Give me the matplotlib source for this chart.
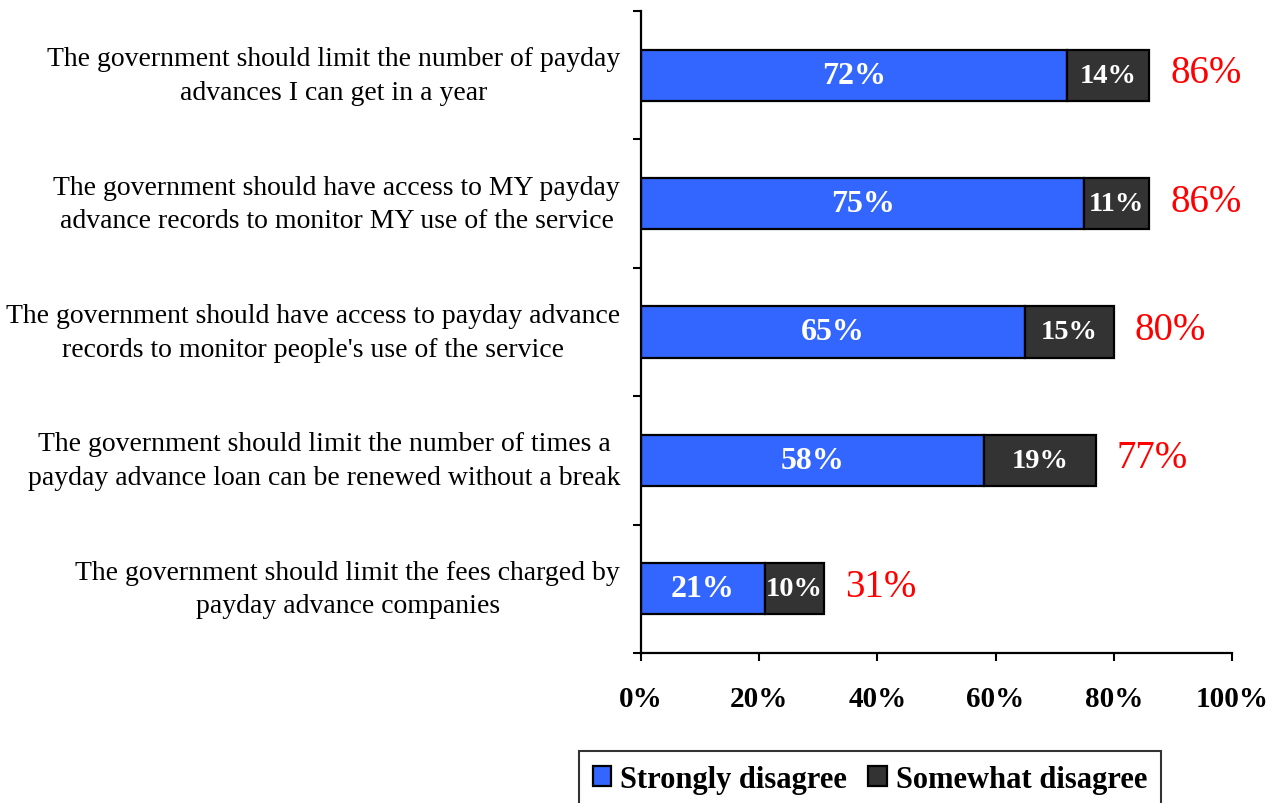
import numpy as np
import matplotlib.pyplot as plt
import matplotlib.transforms as mtransforms
from matplotlib.ticker import FixedLocator, PercentFormatter

statements = [
    "The government should limit the number of payday\nadvances I can get in a year",
    "The government should have access to MY payday\nadvance records to monitor MY use of the service",
    "The government should have access to payday advance\nrecords to monitor people's use of the service",
    "The government should limit the number of times a\npayday advance loan can be renewed without a break",
    "The government should limit the fees charged by\npayday advance companies",
]
strongly = [72, 75, 65, 58, 21]
somewhat = [14, 11, 15, 19, 10]
totals = [86, 86, 80, 77, 31]

blue = "#3366FF"
dark = "#333333"

plt.rcParams['font.family'] = ['Liberation Serif', 'DejaVu Serif']

fig = plt.figure(figsize=(12.68, 8.04), dpi=100)
ax = fig.add_axes([641 / 1268, 1 - 654 / 804, 591 / 1268, 642 / 804])

y = np.arange(len(statements))
h = 0.4
b1 = ax.barh(y, strongly, height=h, color=blue, edgecolor="black", linewidth=1.6,
             label="Strongly disagree")
b2 = ax.barh(y, somewhat, left=strongly, height=h, color=dark, edgecolor="black",
             linewidth=1.6, label="Somewhat disagree")

for i in range(len(y)):
    ax.text(strongly[i] / 2, y[i], f"{strongly[i]}%", ha="center", va="center",
            color="white", fontweight="bold", fontsize=23)
    ax.text(strongly[i] + somewhat[i] / 2, y[i], f"{somewhat[i]}%", ha="center",
            va="center", color="white", fontweight="bold", fontsize=20.5)
    ax.annotate(f"{totals[i]}%", (totals[i], y[i] - 0.02), xytext=(15, 0),
                textcoords="offset points", ha="left", va="center",
                color="red", fontsize=28)

ax.set_xlim(0, 100)
ax.set_ylim(len(y) - 0.5, -0.5)
ax.xaxis.set_major_locator(FixedLocator([0, 20, 40, 60, 80, 100]))
ax.xaxis.set_major_formatter(PercentFormatter(decimals=0))
ax.set_yticks(y)
ax.set_yticklabels(statements)
ax.yaxis.set_minor_locator(FixedLocator(np.arange(-0.5, len(y), 1)))

ax.tick_params(axis="y", which="major", length=0, pad=15, labelsize=20)
ax.tick_params(axis="y", which="minor", length=6, width=1.5, direction="out")
ax.tick_params(axis="x", length=6, width=1.5, direction="out", pad=17, labelsize=21)
for lab in ax.get_xticklabels():
    lab.set_fontweight("bold")
# nudge the statement labels up a little
shift = mtransforms.ScaledTranslation(0, 5 / 72, fig.dpi_scale_trans)
for lab in ax.get_yticklabels():
    lab.set_multialignment("center")
    lab.set_linespacing(1.45)
    lab.set_transform(lab.get_transform() + shift)

for side in ["top", "right"]:
    ax.spines[side].set_visible(False)
for side in ["left", "bottom"]:
    ax.spines[side].set_linewidth(1.6)

leg = fig.legend(handles=[b1, b2], loc="upper center", ncol=2,
                 bbox_to_anchor=(870 / 1268, 1 - 752 / 804), borderaxespad=0,
                 prop={"weight": "bold", "size": 22}, frameon=True, fancybox=False,
                 edgecolor="black", handlelength=0.6, handleheight=0.6,
                 handletextpad=0.3, columnspacing=0.7, borderpad=0.45)
leg.get_frame().set_linewidth(1.5)

fig.savefig("out.png", dpi=100)
